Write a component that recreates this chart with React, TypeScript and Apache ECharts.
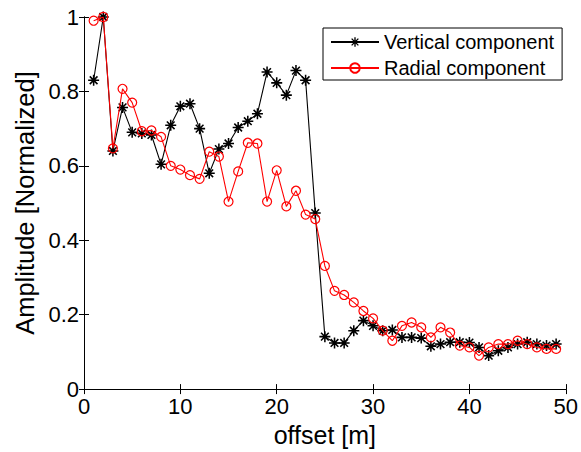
import React, { useEffect, useRef } from "react";
import * as echarts from "echarts";

const offsets = [
  1, 2, 3, 4, 5, 6, 7, 8, 9, 10, 11, 12, 13, 14, 15, 16, 17, 18, 19, 20, 21, 22, 23, 24, 25,
  26, 27, 28, 29, 30, 31, 32, 33, 34, 35, 36, 37, 38, 39, 40, 41, 42, 43, 44, 45, 46, 47, 48, 49,
];
const vertical = [
  0.83, 1.0, 0.64, 0.757, 0.69, 0.687, 0.683, 0.604, 0.709, 0.76, 0.767, 0.7, 0.58, 0.645, 0.66,
  0.703, 0.72, 0.74, 0.852, 0.823, 0.79, 0.856, 0.83, 0.473, 0.141, 0.124, 0.124, 0.157, 0.184,
  0.17, 0.157, 0.159, 0.139, 0.139, 0.137, 0.115, 0.121, 0.126, 0.126, 0.125, 0.112, 0.09, 0.103,
  0.112, 0.121, 0.126, 0.121, 0.117, 0.121,
];
const radial = [
  0.99, 1.0, 0.647, 0.807, 0.77, 0.693, 0.695, 0.678, 0.6, 0.59, 0.575, 0.565, 0.638, 0.625,
  0.504, 0.585, 0.662, 0.66, 0.504, 0.588, 0.491, 0.533, 0.469, 0.457, 0.331, 0.264, 0.253, 0.233,
  0.21, 0.19, 0.157, 0.13, 0.17, 0.179, 0.166, 0.139, 0.166, 0.152, 0.117, 0.112, 0.09, 0.112,
  0.121, 0.121, 0.13, 0.121, 0.112, 0.108, 0.108,
];
const seriesNames = ["Vertical component", "Radial component"];
const xLabel = "offset [m]";
const yLabel = "Amplitude [Normalized]";

const asterisk =
  "path://M-0.7,-5L0.7,-5L0.7,5L-0.7,5Z M-5,-0.7L5,-0.7L5,0.7L-5,0.7Z M-4,-3L-3,-4L4,3L3,4Z M3,-4L4,-3L-3,4L-4,3Z";

const FONT = "'Liberation Sans', Arial, sans-serif";

export default function App() {
  const ref = useRef<HTMLDivElement>(null);
  useEffect(() => {
    if (!ref.current) return;
    const chart = echarts.init(ref.current, null, { renderer: "svg" });
    const axisLine = { show: true, lineStyle: { color: "#000", width: 1 } };
    const tick = { show: true, inside: true, length: 5, lineStyle: { color: "#000" } };
    chart.setOption({
      animation: false,
      backgroundColor: "#fff",
      grid: { left: 84, right: 14, top: 17, bottom: 60, containLabel: false },
      legend: {
        orient: "vertical",
        left: 323,
        top: 28,
        padding: [4, 8, 2, 7],
        itemGap: 6,
        itemWidth: 48,
        itemHeight: 12,
        backgroundColor: "#fff",
        borderColor: "#000",
        borderWidth: 1,
        borderRadius: 0,
        textStyle: { fontFamily: FONT, fontSize: 20, color: "#000" },
        data: seriesNames,
      },
      xAxis: [
        {
          type: "value",
          min: 0,
          max: 50,
          interval: 10,
          position: "bottom",
          name: xLabel,
          nameLocation: "middle",
          nameGap: 32,
          nameTextStyle: { fontFamily: FONT, fontSize: 25, color: "#000" },
          axisLine,
          axisTick: tick,
          axisLabel: { fontFamily: FONT, fontSize: 22, color: "#000", margin: 6 },
          splitLine: { show: false },
        },
        {
          type: "value",
          min: 0,
          max: 50,
          interval: 10,
          position: "top",
          axisLine,
          axisTick: tick,
          axisLabel: { show: false },
          splitLine: { show: false },
        },
      ],
      yAxis: [
        {
          type: "value",
          min: 0,
          max: 1,
          interval: 0.2,
          position: "left",
          name: yLabel,
          nameLocation: "middle",
          nameGap: 42,
          nameTextStyle: { fontFamily: FONT, fontSize: 25.5, color: "#000" },
          axisLine,
          axisTick: tick,
          axisLabel: { fontFamily: FONT, fontSize: 22, color: "#000", margin: 5 },
          splitLine: { show: false },
        },
        {
          type: "value",
          min: 0,
          max: 1,
          interval: 0.2,
          position: "right",
          axisLine,
          axisTick: tick,
          axisLabel: { show: false },
          splitLine: { show: false },
        },
      ],
      series: [
        {
          name: seriesNames[0],
          type: "line",
          data: offsets.map((x, i) => [x, vertical[i]]),
          symbol: asterisk,
          symbolSize: 11,
          showAllSymbol: true,
          itemStyle: { color: "#000" },
          lineStyle: { color: "#000", width: 1.1 },
          z: 2,
        },
        {
          name: seriesNames[1],
          type: "line",
          data: offsets.map((x, i) => [x, radial[i]]),
          symbol: "circle",
          symbolSize: 9,
          showAllSymbol: true,
          itemStyle: { color: "rgba(255,255,255,0)", borderColor: "#ff0000", borderWidth: 1.2 },
          lineStyle: { color: "#ff0000", width: 1.1 },
          z: 3,
        },
      ],
    });
    return () => chart.dispose();
  }, []);
  return <div ref={ref} style={{ width: 581, height: 452, position: "absolute", left: 0, top: 0 }} />;
}
